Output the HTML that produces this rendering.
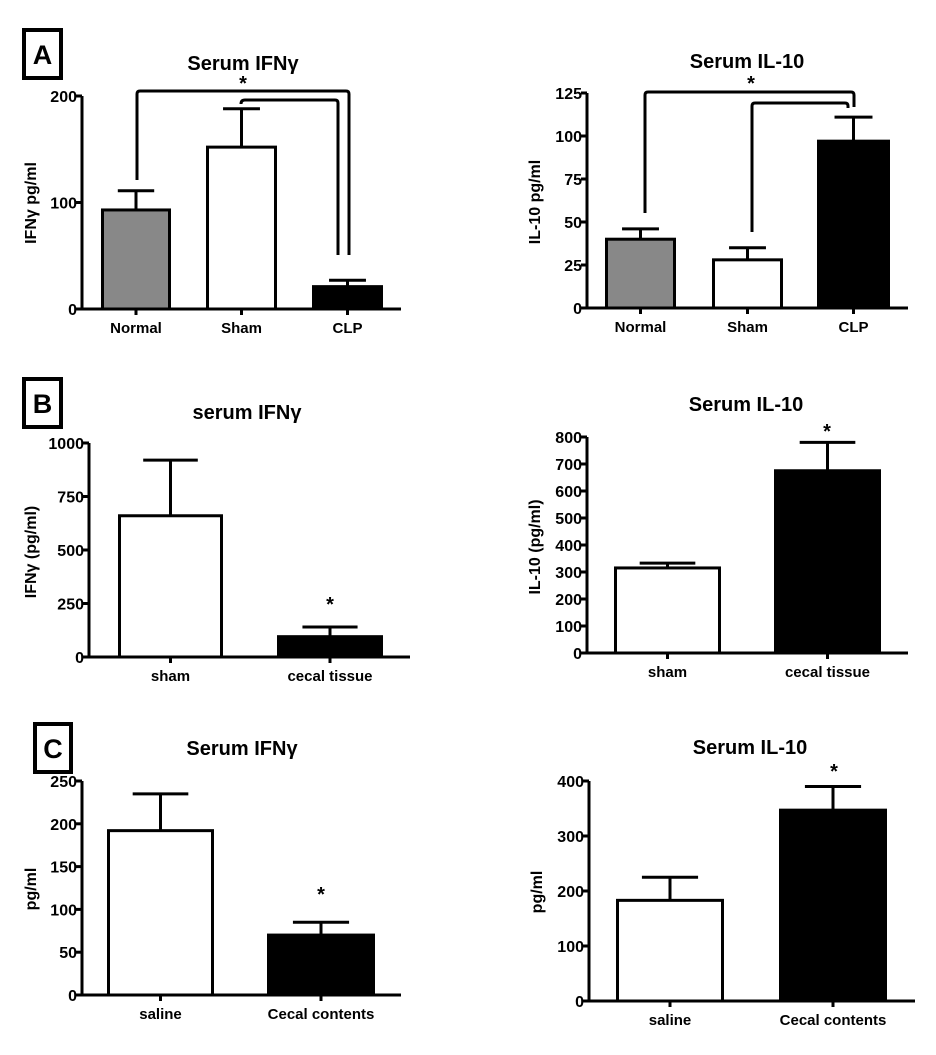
<!DOCTYPE html>
<html><head><meta charset="utf-8"><style>
body{margin:0;background:#fff;width:936px;height:1050px;overflow:hidden}
svg text{font-family:"Liberation Sans",Arial,sans-serif;font-weight:bold;fill:#000}
</style></head><body>
<svg id="fig" width="936" height="1050" xmlns="http://www.w3.org/2000/svg">
<g><rect x="24" y="30" width="37" height="48" fill="none" stroke="#000" stroke-width="4"/><text x="42.5" y="64" font-size="27" text-anchor="middle">A</text></g>
<g><rect x="24" y="379" width="37" height="48" fill="none" stroke="#000" stroke-width="4"/><text x="42.5" y="413" font-size="27" text-anchor="middle">B</text></g>
<g><rect x="35" y="724" width="36" height="48" fill="none" stroke="#000" stroke-width="4"/><text x="53" y="758" font-size="27" text-anchor="middle">C</text></g>
</svg>
<script>
// Panel A left: Serum IFNγ
const aL_categories=["Normal","Sham","CLP"];
const aL_values=[93,152,21];
const aL_errors=[18,36,6];
const aL_ticks=[0,100,200];
// Panel A right: Serum IL-10
const aR_categories=["Normal","Sham","CLP"];
const aR_values=[40,28,97];
const aR_errors=[6,7,14];
const aR_ticks=[0,25,50,75,100,125];
// Panel B left
const bL_categories=["sham","cecal tissue"];
const bL_values=[660,95];
const bL_errors=[260,45];
const bL_ticks=[0,250,500,750,1000];
// Panel B right
const bR_categories=["sham","cecal tissue"];
const bR_values=[315,675];
const bR_errors=[18,105];
const bR_ticks=[0,100,200,300,400,500,600,700,800];
// Panel C left
const cL_categories=["saline","Cecal contents"];
const cL_values=[192,70];
const cL_errors=[43,15];
const cL_ticks=[0,50,100,150,200,250];
// Panel C right
const cR_categories=["saline","Cecal contents"];
const cR_values=[183,347];
const cR_errors=[42,43];
const cR_ticks=[0,100,200,300,400];

const svg=document.getElementById('fig');
const NS='http://www.w3.org/2000/svg';
function mk(tag,attrs,parent){const e=document.createElementNS(NS,tag);for(const k in attrs)e.setAttribute(k,attrs[k]);(parent||svg).appendChild(e);return e;}

function chart(id,cfg,cats,vals,errs,ticks){
  const g=mk('g',{});
  
  
  const max=ticks[ticks.length-1];
  const y=v=>cfg.y0-(v/max)*(cfg.y0-cfg.yTop);
  const t=mk('text',{x:cfg.titleX,y:cfg.titleY,'font-size':20,'text-anchor':'middle'},g);t.textContent=cfg.title;
  
  
  const yl=mk('text',{x:0,y:0,'font-size':16,'text-anchor':'middle',transform:`translate(${cfg.ylX},${cfg.ylY}) rotate(-90)`},g);yl.textContent=cfg.ylabel;
  
  
  cats.forEach((c,i)=>{
    const x0=cfg.bars[i][0],x1=cfg.bars[i][1],cx=(x0+x1)/2;
    const top=y(vals[i]);
    const r=mk('rect',{x:x0+1.5,y:top,width:x1-x0-3,height:cfg.y0-top,fill:cfg.fills[i],stroke:'#000','stroke-width':3},g);
    
    
    const ey=y(vals[i]+errs[i]);
    const hw=(x1-x0)*0.26;
    const eb=mk('path',{d:`M${cx},${top} V${ey} M${cx-hw},${ey} H${cx+hw}`,stroke:'#000','stroke-width':3,fill:'none'},g);
    
    
    mk('line',{x1:cx,y1:cfg.y0,x2:cx,y2:cfg.y0+6,stroke:'#000','stroke-width':3},g);
    const lab=mk('text',{x:cx,y:cfg.y0+24,'font-size':15,'text-anchor':'middle'},g);lab.textContent=c;
    
    
  });
  const ax=mk('path',{d:`M${cfg.ax},${cfg.yTop} V${cfg.y0} H${cfg.xEnd}`,stroke:'#000','stroke-width':3,fill:'none'},g);
  
  
  ticks.forEach(v=>{
    mk('line',{x1:cfg.ax-6,y1:y(v),x2:cfg.ax,y2:y(v),stroke:'#000','stroke-width':3},g);
    const tl=mk('text',{x:cfg.ax-5,y:y(v)+6,'font-size':16,'text-anchor':'end'},g);tl.textContent=v;
    
    
  });
  (cfg.stars||[]).forEach(s=>{const st=mk('text',{x:s[0],y:s[1]+8,'font-size':20,'text-anchor':'middle'},g);st.textContent='*';
    
    });
  (cfg.brackets||[]).forEach(b=>{const p=mk('path',{d:b,stroke:'#000','stroke-width':3,fill:'none','stroke-linejoin':'round'},g);
    
    });
}
const G='#888',W='#fff',K='#000';
chart('chart-a-ifng',{title:'Serum IFNγ',titleX:243,titleY:70,ylabel:'IFNγ pg/ml',ylX:36,ylY:203,ax:82,y0:309,yTop:96,xEnd:401,
  bars:[[101,171],[206,277],[312,383]],fills:[G,W,K],stars:[[243,82]],
  brackets:['M137,180 V94 Q137,91 140,91 H346 Q349,91 349,94 V255','M241,104 Q241,100 245,100 H335 Q338,100 338,103 V255']},
  aL_categories,aL_values,aL_errors,aL_ticks);
chart('chart-a-il10',{title:'Serum IL-10',titleX:747,titleY:68,ylabel:'IL-10 pg/ml',ylX:540,ylY:202,ax:587,y0:308,yTop:93,xEnd:908,
  bars:[[605,676],[712,783],[817,890]],fills:[G,W,K],stars:[[751,82]],
  brackets:['M645,213 V95 Q645,92 648,92 H851 Q854,92 854,95 V107','M752,232 V106 Q752,103 755,103 H845 Q848,103 848,106 V108']},
  aR_categories,aR_values,aR_errors,aR_ticks);
chart('chart-b-ifng',{title:'serum IFNγ',titleX:247,titleY:419,ylabel:'IFNγ (pg/ml)',ylX:36,ylY:552,ax:89,y0:657,yTop:443,xEnd:410,
  bars:[[118,223],[277,383]],fills:[W,K],stars:[[330,603]]},
  bL_categories,bL_values,bL_errors,bL_ticks);
chart('chart-b-il10',{title:'Serum IL-10',titleX:746,titleY:411,ylabel:'IL-10 (pg/ml)',ylX:540,ylY:547,ax:587,y0:653,yTop:437,xEnd:908,
  bars:[[614,721],[774,881]],fills:[W,K],stars:[[827,430]]},
  bR_categories,bR_values,bR_errors,bR_ticks);
chart('chart-c-ifng',{title:'Serum IFNγ',titleX:242,titleY:755,ylabel:'pg/ml',ylX:36,ylY:889,ax:82,y0:995,yTop:781,xEnd:401,
  bars:[[107,214],[267,375]],fills:[W,K],stars:[[321,893]]},
  cL_categories,cL_values,cL_errors,cL_ticks);
chart('chart-c-il10',{title:'Serum IL-10',titleX:750,titleY:754,ylabel:'pg/ml',ylX:542,ylY:892,ax:589,y0:1001,yTop:781,xEnd:915,
  bars:[[616,724],[779,887]],fills:[W,K],stars:[[834,770]]},
  cR_categories,cR_values,cR_errors,cR_ticks);
</script>
</body></html>
